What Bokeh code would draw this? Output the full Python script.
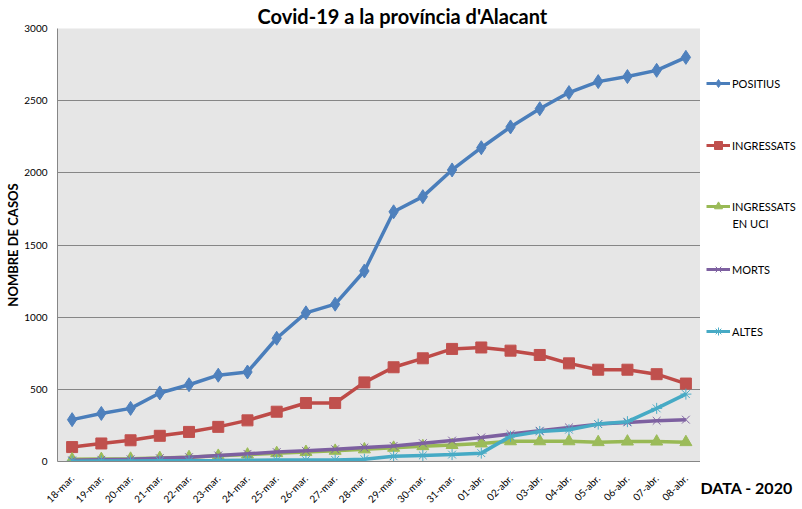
import math
from bokeh.plotting import figure
from bokeh.models import (Label, Legend, LegendItem, FactorRange, Range1d,
                          FixedTicker, Title)
from bokeh.layouts import row
from bokeh.embed import file_html
from bokeh.resources import INLINE

dates = ["18-mar.", "19-mar.", "20-mar.", "21-mar.", "22-mar.", "23-mar.",
         "24-mar.", "25-mar.", "26-mar.", "27-mar.", "28-mar.", "29-mar.",
         "30-mar.", "31-mar.", "01-abr.", "02-abr.", "03-abr.", "04-abr.",
         "05-abr.", "06-abr.", "07-abr.", "08-abr."]
positius = [290, 333, 368, 475, 532, 598, 620, 854, 1030, 1090, 1320, 1730,
            1835, 2020, 2174, 2318, 2444, 2556, 2632, 2667, 2710, 2800]
ingressats = [100, 125, 147, 178, 205, 240, 285, 345, 405, 405, 548, 653,
              715, 780, 790, 768, 738, 680, 636, 636, 605, 540]
ingressats_uci = [15, 17, 19, 24, 30, 39, 48, 58, 66, 74, 84, 95,
                  106, 114, 125, 140, 140, 140, 134, 138, 138, 134]
morts = [8, 12, 16, 23, 30, 42, 53, 65, 74, 85, 97, 108,
         127, 145, 167, 190, 213, 236, 259, 271, 282, 290]
altes = [2, 3, 4, 5, 6, 7, 9, 10, 10, 11, 16, 36,
         42, 48, 58, 174, 208, 220, 259, 276, 368, 467]
y_ticks = [0, 500, 1000, 1500, 2000, 2500, 3000]

series_names = ["POSITIUS", "INGRESSATS", "INGRESSATS", "MORTS", "ALTES"]
uci_second_line = "EN UCI"
title_text = "Covid-19 a la província d'Alacant"
y_title = "NOMBRE DE CASOS"
x_title = "DATA  - 2020"

FONT = "Lato"

p = figure(x_range=FactorRange(factors=dates, range_padding=0),
           y_range=Range1d(0, 3000),
           frame_width=643, frame_height=433,
           min_border_left=57, min_border_right=0,
           min_border_top=27, min_border_bottom=40,
           output_backend="svg", toolbar_location=None)

p.title.text = title_text
p.title.align = "left"
p.title.offset = 200
p.title.standoff = 2
p.title.text_font = FONT
p.title.text_font_size = "20px"
p.title.text_font_style = "bold"
p.title.text_color = "black"

p.background_fill_color = "#E6E6E6"
p.border_fill_color = "white"
p.outline_line_color = None

p.xgrid.grid_line_color = None
p.ygrid.grid_line_color = "#868686"
p.ygrid.grid_line_width = 1
p.yaxis.ticker = FixedTicker(ticks=y_ticks)

p.yaxis.axis_line_color = "#868686"
p.yaxis.major_tick_line_color = None
p.yaxis.minor_tick_line_color = None
p.yaxis.major_tick_out = 0
p.yaxis.major_tick_in = 0
p.yaxis.minor_tick_out = 0
p.yaxis.major_label_standoff = 10
p.yaxis.major_label_text_font = FONT
p.yaxis.major_label_text_font_size = "10px"
p.yaxis.major_label_text_color = "black"
p.yaxis.axis_label = y_title
p.yaxis.axis_label_standoff = 0
p.yaxis.axis_label_text_font = FONT
p.yaxis.axis_label_text_font_size = "13px"
p.yaxis.axis_label_text_font_style = "bold"
p.yaxis.axis_label_text_color = "black"

p.xaxis.axis_line_color = "#868686"
p.xaxis.major_tick_line_color = None
p.xaxis.minor_tick_line_color = None
p.xaxis.major_tick_out = 0
p.xaxis.major_tick_in = 0
p.xaxis.major_label_orientation = math.pi / 4
p.xaxis.major_label_standoff = 15
p.xaxis.major_label_text_font = FONT
p.xaxis.major_label_text_font_size = "10px"
p.xaxis.major_label_text_color = "black"

styles = [
    (positius, "#4A7EBB", "#4F81BD", "diamond", 14),
    (ingressats, "#BE4B48", "#C0504D", "square", 11),
    (ingressats_uci, "#98B954", "#9BBB59", "triangle", 12),
    (morts, "#7D60A0", "#8064A2", "x", 11),
    (altes, "#46AAC5", "#4BACC6", "asterisk", 11),
]

# side panel holding the legend; data units = page pixels
side = figure(frame_width=102, frame_height=433,
              x_range=Range1d(700, 802), y_range=Range1d(460, 27),
              x_axis_location=None, y_axis_location=None,
              min_border_left=0, min_border_right=0,
              min_border_top=27, min_border_bottom=40,
              output_backend="svg", toolbar_location=None)
side.xgrid.grid_line_color = None
side.ygrid.grid_line_color = None
side.outline_line_color = None
side.background_fill_color = "white"
side.border_fill_color = "white"
side.add_layout(Title(text=x_title, align="left", offset=0, standoff=29,
                      vertical_align="bottom", text_font=FONT,
                      text_font_size="16px", text_font_style="bold",
                      text_color="black"), "below")

legend_centers = [82, 144, 205, 268, 330]

for (vals, lc, mc, marker, size), name, cy in zip(styles, series_names,
                                                  legend_centers):
    p.line(dates, vals, line_color=lc, line_width=3.5)
    p.scatter(dates, vals, marker=marker, size=size,
              fill_color=mc, line_color=mc, line_width=1)
    idx = list(range(len(vals)))
    l1 = side.line(idx, vals, line_color=lc, line_width=3, visible=False)
    l2 = side.scatter(idx, vals, marker=marker, size=7,
                      fill_color=mc, line_color=mc, visible=False)
    leg = Legend(items=[LegendItem(label=name, renderers=[l1, l2])],
                 location=(6, 460 - (cy + 10)), orientation="vertical",
                 border_line_color=None, background_fill_alpha=0,
                 padding=0, margin=0, spacing=0,
                 glyph_width=24, glyph_height=20, label_height=20,
                 label_standoff=2, label_text_font=FONT,
                 label_text_font_size="11px", label_text_color="black",
                 inactive_fill_alpha=0)
    side.add_layout(leg, "center")

side.add_layout(Label(x=732, y=222, text=uci_second_line, text_font=FONT,
                      text_font_size="11px", text_baseline="middle",
                      text_align="left", text_color="black"))

layout = row(p, side)
open("out.html", "w").write(file_html(layout, INLINE))
